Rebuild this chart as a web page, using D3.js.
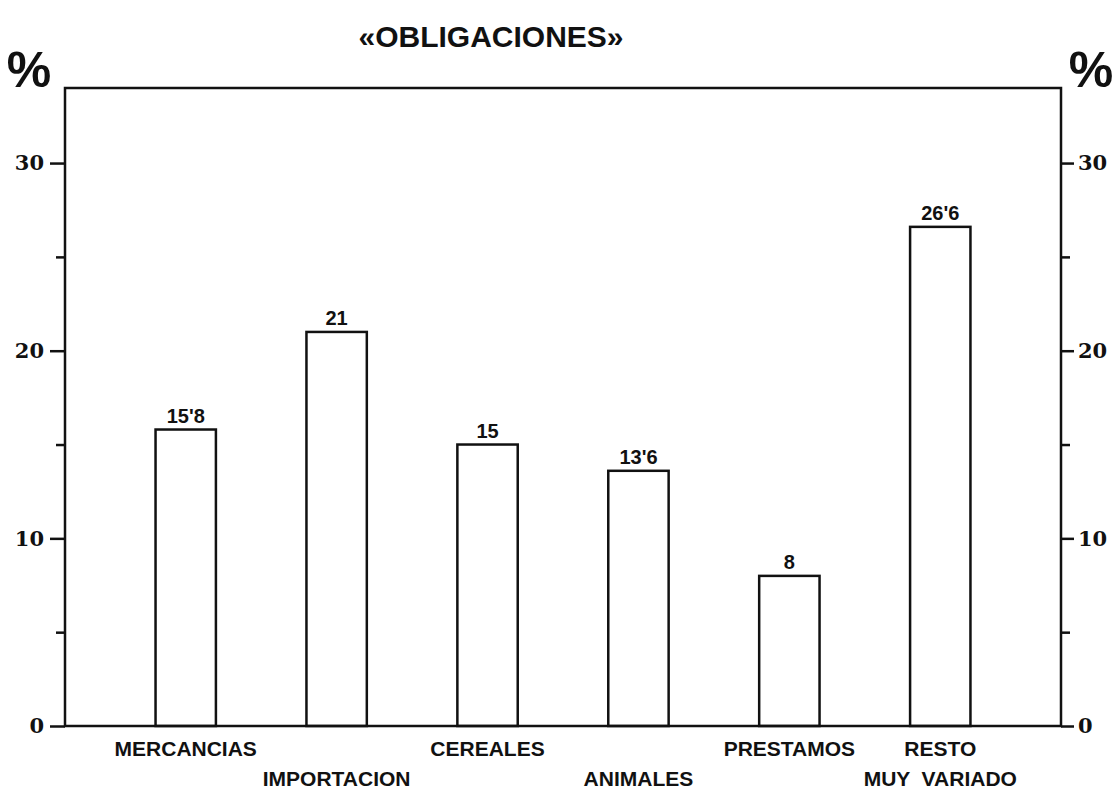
<!DOCTYPE html>
<html>
<head>
<meta charset="utf-8">
<script src="https://cdn.jsdelivr.net/npm/d3@7"></script>
<style>
  html, body { margin: 0; background: #fff; overflow: hidden; }
  svg { display: block; }
</style>
</head>
<body>
<div id="chart"></div>
<script>
// Data
const categories = ['MERCANCIAS', 'IMPORTACION', 'CEREALES', 'ANIMALES', 'PRESTAMOS', 'RESTO'];
const values = [15.8, 21, 15, 13.6, 8, 26.6];
const valueLabels = ["15'8", '21', '15', "13'6", '8', "26'6"];
// category labels sit on two staggered rows (row 0 or 1)
const catLabels = [
  { cat: 'MERCANCIAS', text: 'MERCANCIAS', row: 0 },
  { cat: 'IMPORTACION', text: 'IMPORTACION', row: 1 },
  { cat: 'CEREALES', text: 'CEREALES', row: 0 },
  { cat: 'ANIMALES', text: 'ANIMALES', row: 1 },
  { cat: 'PRESTAMOS', text: 'PRESTAMOS', row: 0 },
  { cat: 'RESTO', text: 'RESTO', row: 0 },
  { cat: 'RESTO', text: 'MUY  VARIADO', row: 1 }
];
const majorTicks = [0, 10, 20, 30];
const minorTicks = [5, 15, 25];

const width = 1114;
const height = 793;
const margin = { top: 88, right: 53, bottom: 67, left: 65 };
const plotLeft = margin.left;
const plotRight = width - margin.right;
const plotTop = margin.top;
const plotBottom = height - margin.bottom;

const svg = d3.select('#chart')
  .append('svg')
  .attr('width', width)
  .attr('height', height);

const x = d3.scaleBand()
  .domain(categories)
  .range([plotLeft, plotRight])
  .paddingInner(0.6)
  .paddingOuter(0.6);

const y = d3.scaleLinear()
  .domain([0, 34])
  .range([plotBottom, plotTop]);

const sans = 'Liberation Sans, Arial, sans-serif';
const serif = 'DejaVu Serif, serif';

// Bars
svg.selectAll('.bar')
  .data(values)
  .join('rect')
  .attr('class', 'bar')
  .attr('x', (d, i) => x(categories[i]))
  .attr('y', d => y(d))
  .attr('width', x.bandwidth())
  .attr('height', d => plotBottom - y(d))
  .attr('fill', '#fff')
  .attr('stroke', '#111')
  .attr('stroke-width', 2.5);

// Value labels above bars
svg.selectAll('.val')
  .data(values)
  .join('text')
  .attr('class', 'val')
  .attr('x', (d, i) => x(categories[i]) + x.bandwidth() / 2)
  .attr('y', d => y(d) - 7)
  .attr('text-anchor', 'middle')
  .attr('font-family', sans)
  .attr('font-weight', 'bold')
  .attr('font-size', '20px')
  .attr('fill', '#111')
  .text((d, i) => valueLabels[i]);

// Left axis
const leftAxis = svg.append('g')
  .attr('transform', `translate(${plotLeft},0)`)
  .call(d3.axisLeft(y).tickValues(majorTicks).tickSize(15).tickPadding(6).tickFormat(d3.format('d')));
svg.append('g')
  .attr('transform', `translate(${plotLeft},0)`)
  .call(d3.axisLeft(y).tickValues(minorTicks).tickSize(9).tickFormat(''))
  .call(a => a.selectAll('text').remove());

// Right axis
const rightAxis = svg.append('g')
  .attr('transform', `translate(${plotRight},0)`)
  .call(d3.axisRight(y).tickValues(majorTicks).tickSize(13).tickPadding(4).tickFormat(d3.format('d')));
svg.append('g')
  .attr('transform', `translate(${plotRight},0)`)
  .call(d3.axisRight(y).tickValues(minorTicks).tickSize(9).tickFormat(''))
  .call(a => a.selectAll('text').remove());

svg.selectAll('.domain').remove();
svg.selectAll('.tick line').attr('stroke', '#111').attr('stroke-width', 2.5);
[leftAxis, rightAxis].forEach(ax => {
  ax.selectAll('text')
    .attr('font-family', serif)
    .attr('font-weight', 'bold')
    .attr('font-size', '21px')
    .attr('fill', '#111');
});

// Frame: left, right, top and baseline
svg.append('path')
  .attr('d', `M${plotLeft},${plotBottom}V${plotTop}H${plotRight}V${plotBottom}Z`)
  .attr('fill', 'none')
  .attr('stroke', '#111')
  .attr('stroke-width', 2.5);

// Category labels, two staggered rows
svg.selectAll('.cat')
  .data(catLabels)
  .join('text')
  .attr('class', 'cat')
  .attr('x', d => x(d.cat) + x.bandwidth() / 2)
  .attr('y', d => plotBottom + 30 + d.row * 30)
  .attr('text-anchor', 'middle')
  .attr('font-family', sans)
  .attr('font-weight', 'bold')
  .attr('font-size', '21px')
  .attr('fill', '#111')
  .style('white-space', 'pre')
  .text(d => d.text);

// Title
svg.append('text')
  .attr('x', 491)
  .attr('y', 47)
  .attr('text-anchor', 'middle')
  .attr('font-family', sans)
  .attr('font-weight', 'bold')
  .attr('font-size', '30px')
  .attr('fill', '#111')
  .text('«OBLIGACIONES»');

// Percent signs
svg.append('text')
  .attr('x', 29)
  .attr('y', 87)
  .attr('text-anchor', 'middle')
  .attr('font-family', sans)
  .attr('font-weight', 'bold')
  .attr('font-size', '50px')
  .attr('fill', '#111')
  .text('%');

svg.append('text')
  .attr('x', 1091)
  .attr('y', 87)
  .attr('text-anchor', 'middle')
  .attr('font-family', sans)
  .attr('font-weight', 'bold')
  .attr('font-size', '50px')
  .attr('fill', '#111')
  .text('%');
</script>
</body>
</html>
